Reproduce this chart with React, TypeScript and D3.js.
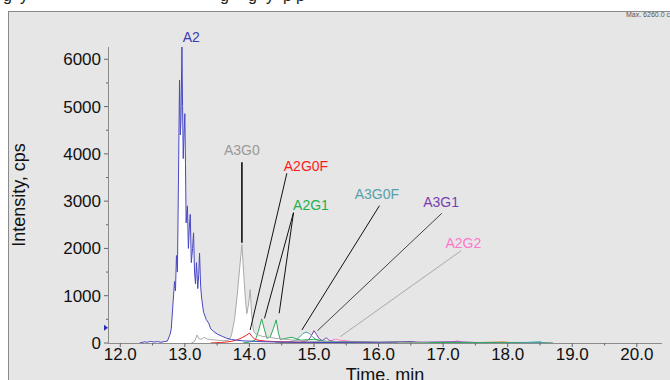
import * as d3 from "d3"

type Pt = [number, number]

// retention time (min) vs intensity (cps)
const A2: Pt[] = [
  [12.3, 0], [12.38, 25], [12.42, 15], [12.47, 35], [12.52, 20], [12.58, 30], [12.63, 15], [12.68, 30],
  [12.73, 40], [12.77, 180], [12.79, 300], [12.82, 900], [12.84, 1300], [12.855, 1100], [12.87, 1850],
  [12.885, 1500], [12.9, 3300], [12.918, 5560], [12.93, 4400], [12.94, 4700], [12.955, 6260], [12.965, 5000],
  [12.975, 3900], [12.985, 4300], [13.0, 4850], [13.01, 3800], [13.02, 2540], [13.04, 2900], [13.055, 2000],
  [13.07, 2450], [13.084, 2720], [13.1, 1700], [13.12, 2000], [13.135, 2330], [13.15, 1500], [13.165, 1250],
  [13.18, 1700], [13.2, 1150], [13.215, 1450], [13.228, 1900], [13.245, 1200], [13.26, 950], [13.29, 650],
  [13.33, 500], [13.37, 420], [13.4, 300], [13.45, 240], [13.5, 190], [13.58, 140], [13.65, 100], [13.72, 75],
  [13.8, 60], [13.9, 45], [14.0, 40], [14.15, 30], [14.3, 25], [14.5, 20], [14.8, 15], [15.2, 10], [15.8, 6],
  [16.3, 0],
]
const A3G0: Pt[] = [
  [13.1, 0], [13.15, 30], [13.19, 170], [13.22, 90], [13.26, 80], [13.3, 120], [13.35, 80], [13.42, 70],
  [13.5, 60], [13.6, 50], [13.68, 60], [13.72, 150], [13.77, 500], [13.81, 1000], [13.85, 1600], [13.884, 2080],
  [13.91, 1500], [13.94, 900], [13.96, 620], [13.985, 800], [14.012, 1130], [14.035, 600], [14.063, 250],
  [14.1, 190], [14.14, 170], [14.2, 140], [14.3, 120], [14.4, 100], [14.55, 80], [14.7, 60], [14.9, 40],
  [15.2, 25], [15.6, 15], [16.2, 8], [16.8, 0],
]
const A2G0F: Pt[] = [
  [13.4, 0], [13.55, 10], [13.7, 30], [13.8, 60], [13.88, 110], [13.95, 160], [14.0, 210], [14.04, 140],
  [14.08, 80], [14.15, 55], [14.25, 40], [14.4, 30], [14.6, 20], [14.9, 15], [15.3, 10], [16, 6], [16.6, 0],
]
const A2G1: Pt[] = [
  [13.9, 0], [14.0, 20], [14.09, 60], [14.14, 250], [14.19, 510], [14.23, 300], [14.27, 100], [14.32, 120],
  [14.37, 300], [14.415, 490], [14.45, 200], [14.48, 70], [14.53, 90], [14.6, 110], [14.66, 120], [14.72, 90],
  [14.8, 60], [14.9, 70], [15.0, 80], [15.1, 50], [15.25, 30], [15.5, 20], [16, 15], [16.6, 10], [17.5, 5], [18.2, 0],
]
const A3G0F: Pt[] = [
  [14.4, 0], [14.55, 15], [14.65, 30], [14.72, 60], [14.78, 130], [14.83, 200], [14.88, 230], [14.93, 200],
  [14.98, 130], [15.03, 80], [15.1, 40], [15.2, 20], [15.4, 12], [15.8, 10], [16.4, 15], [17, 8], [18.5, 10], [18.6, 0],
]
const A3G1: Pt[] = [
  [14.6, 0], [14.8, 15], [14.9, 50], [14.95, 130], [15.0, 260], [15.04, 180], [15.08, 90], [15.13, 50],
  [15.19, 110], [15.24, 50], [15.3, 35], [15.4, 30], [15.55, 25], [15.7, 20], [16.0, 15], [16.5, 30],
  [16.6, 15], [17.2, 25], [17.5, 10], [18.3, 0],
]
const A2G2: Pt[] = [
  [15.0, 0], [15.15, 15], [15.25, 40], [15.33, 80], [15.4, 60], [15.5, 45], [15.6, 30], [15.75, 25], [16.0, 15],
  [16.3, 10], [16.55, 25], [16.7, 10], [17.15, 20], [17.22, 45], [17.3, 15], [17.8, 8], [18.3, 0],
]
const OTHER1: Pt[] = [
  [15.5, 0], [16.0, 10], [16.5, 20], [16.6, 8], [17.0, 10], [17.5, 8], [17.95, 25], [18.05, 5], [18.4, 10], [18.7, 0],
]
const OTHER2: Pt[] = [[16.8, 0], [17.4, 8], [18.3, 12], [18.5, 25], [18.55, 5], [18.7, 0]]

const xTicks = [12, 13, 14, 15, 16, 17, 18, 19, 20]
const yTicks = [0, 1000, 2000, 3000, 4000, 5000, 6000]
const maxIntensity = 6260

const traces = [
  { data: OTHER1, color: "#d98a2b" },
  { data: OTHER2, color: "#20a8a0" },
  { data: A2G2, color: "#ff77cc" },
  { data: A3G1, color: "#7a3db0" },
  { data: A3G0F, color: "#4a9fa8" },
  { data: A2G0F, color: "#ee2222" },
  { data: A2G1, color: "#2aaa55" },
  { data: A3G0, color: "#aaaaaa" },
  { data: A2, color: "#4848c4" },
]

// label anchor and leader lines in (min, cps)
const labels = [
  { text: "A2", color: "#3c3cb0", at: [13.099, 6372], lines: [] as number[][], lineColor: "#000", lw: 1 },
  { text: "A3G0", color: "#999999", at: [13.884, 3976], lines: [[13.884, 3821, 13.884, 2121]], lineColor: "#000", lw: 1.5 },
  { text: "A2G0F", color: "#ff1a1a", at: [14.876, 3644], lines: [[14.58, 3589, 14.012, 275]], lineColor: "#111", lw: 1 },
  { text: "A2G1", color: "#1fb050", at: [14.954, 2813], lines: [[14.683, 2756, 14.234, 522], [14.683, 2756, 14.461, 628]], lineColor: "#111", lw: 1 },
  { text: "A3G0F", color: "#56a0aa", at: [15.974, 3045], lines: [[16.014, 2904, 14.813, 275]], lineColor: "#111", lw: 1 },
  { text: "A3G1", color: "#7a3db0", at: [16.969, 2876], lines: [[16.98, 2743, 15.054, 260]], lineColor: "#444", lw: 1 },
  { text: "A2G2", color: "#ff77cc", at: [17.314, 2009], lines: [[17.279, 1952, 15.406, 133]], lineColor: "#999", lw: 0.8 },
]

const font = "'Liberation Sans', Arial, sans-serif"

export default function App() {
  const W = 670, H = 380
  const x = d3.scaleLinear().domain([11.81, 20.39]).range([108, 662])
  const y = d3.scaleLinear().domain([0, maxIntensity]).range([343, 47])
  const line = d3.line<Pt>().x(d => x(d[0])).y(d => y(d[1]))
  const area = d3.area<Pt>().x(d => x(d[0])).y0(y(0)).y1(d => y(d[1]))
  const minorX = d3.range(12, 20.5, 0.5)
  const minorY = d3.range(0, 6500, 500)

  return (
    <svg width={W} height={H} style={{ position: "absolute", left: 0, top: 0, fontFamily: font }}>
      <rect x={0} y={0} width={W} height={H} fill="#fff" />
      {/* caption cut off above, only descenders show */}
      <g fontSize={16} fill="#222">
        {[[3, "g"], [20, "y"], [220, "g"], [248, "g"], [266, "y"], [283, "p"], [296, "p"]].map(([px, c], i) => (
          <text key={i} x={px as number} y={0.5}>{c}</text>
        ))}
      </g>
      <rect x={8} y={11} width={W - 8} height={H - 11} fill="#e6e6e6" />
      <line x1={8} x2={W} y1={11.5} y2={11.5} stroke="#8a8a8a" />
      <line x1={8.5} x2={8.5} y1={11} y2={H} stroke="#8a8a8a" />
      <text x={626} y={17} fontSize={7} fill="#555">Max. 6260.0 cps.</text>

      <defs>
        <clipPath id="plot">
          <rect x={108} y={20} width={554} height={323} />
        </clipPath>
      </defs>
      <g clipPath="url(#plot)">
        {traces.map((t, i) => (
          <path key={"a" + i} d={area(t.data) || ""} fill="#fff" />
        ))}
        {traces.map((t, i) => (
          <path key={"l" + i} d={line(t.data) || ""} fill="none" stroke={t.color} strokeWidth={1} />
        ))}
      </g>

      {/* axes */}
      <line x1={108} x2={662} y1={343.5} y2={343.5} stroke="#8c8c8c" />
      <line x1={108.5} x2={108.5} y1={47} y2={344} stroke="#8c8c8c" />
      {minorX.map(v => (
        <line key={"mx" + v} x1={x(v)} x2={x(v)} y1={343} y2={v % 1 === 0 ? 347 : 345.5} stroke="#666" />
      ))}
      {minorY.map(v => (
        <line key={"my" + v} x1={v % 1000 === 0 ? 104 : 106} x2={108} y1={y(v)} y2={y(v)} stroke="#666" />
      ))}
      {xTicks.map(v => (
        <text key={"xt" + v} x={x(v)} y={360} fontSize={17} textAnchor="middle" fill="#111">{v.toFixed(1)}</text>
      ))}
      {yTicks.map(v => (
        <text key={"yt" + v} x={101} y={y(v) + 6} fontSize={17} textAnchor="end" fill="#111">{v}</text>
      ))}
      <path d={`M104,${y(320) - 3} L108,${y(320)} L104,${y(320) + 3} Z`} fill="#2a2ac0" />
      <text x={385} y={381} fontSize={18} textAnchor="middle" fill="#111">Time, min</text>
      <text transform="translate(25,195) rotate(-90)" fontSize={18} textAnchor="middle" fill="#111">Intensity, cps</text>

      {/* peak labels */}
      {labels.map(l => (
        <g key={l.text}>
          {l.lines.map((s, i) => (
            <line key={i} x1={x(s[0])} y1={y(s[1])} x2={x(s[2])} y2={y(s[3])} stroke={l.lineColor} strokeWidth={l.lw} />
          ))}
          <text x={x(l.at[0])} y={y(l.at[1])} fontSize={14} textAnchor="middle" fill={l.color}>{l.text}</text>
        </g>
      ))}
    </svg>
  )
}
